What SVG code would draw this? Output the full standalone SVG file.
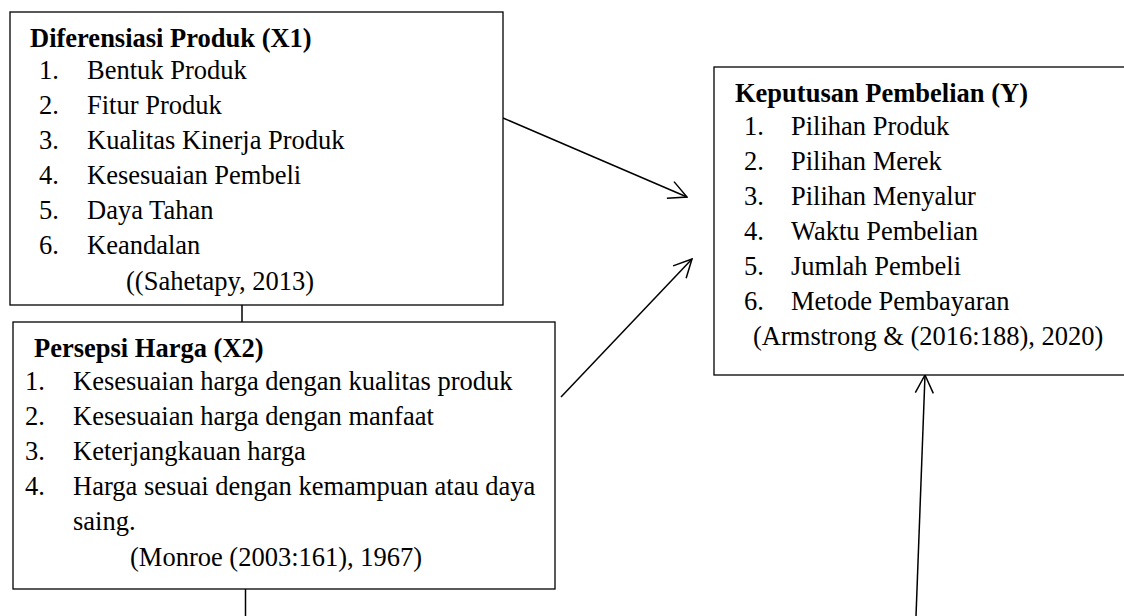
<svg xmlns="http://www.w3.org/2000/svg" width="1124" height="616" viewBox="0 0 1124 616">
<style>
.box{fill:#fff;stroke:#000;stroke-width:1.3}
.t{font-family:"Liberation Serif","Times New Roman",serif;font-size:26.5px;fill:#000}
.b{font-weight:bold}
.ln{stroke:#000;stroke-width:1.5;fill:none}
</style>
<defs>
<marker id="ah" markerUnits="userSpaceOnUse" viewBox="0 0 20 20" refX="19" refY="10" markerWidth="20" markerHeight="20" orient="auto">
<path d="M1,1 L19,10 L1,19" fill="none" stroke="#000" stroke-width="1.5"/>
</marker>
</defs>
<rect width="1124" height="616" fill="#fff"/>
<g id="connectors">
<line class="ln" x1="242" y1="305" x2="242" y2="322"/>
<line class="ln" x1="245.5" y1="589" x2="245.5" y2="616"/>
<line class="ln" x1="503" y1="118" x2="687" y2="197" marker-end="url(#ah)"/>
<line class="ln" x1="561" y1="397" x2="692" y2="259" marker-end="url(#ah)"/>
<line class="ln" x1="916" y1="616" x2="925" y2="375" marker-end="url(#ah)"/>
</g>
<g id="x1">
<rect class="box" x="10" y="12" width="493" height="293"/>
<text class="t b" x="30" y="47">Diferensiasi Produk (X1)</text>
<text class="t" x="39" y="79">1.</text><text class="t" x="87" y="79">Bentuk Produk</text>
<text class="t" x="39" y="114">2.</text><text class="t" x="87" y="114">Fitur Produk</text>
<text class="t" x="39" y="149">3.</text><text class="t" x="87" y="149">Kualitas Kinerja Produk</text>
<text class="t" x="39" y="184">4.</text><text class="t" x="87" y="184">Kesesuaian Pembeli</text>
<text class="t" x="39" y="219">5.</text><text class="t" x="87" y="219">Daya Tahan</text>
<text class="t" x="39" y="254">6.</text><text class="t" x="87" y="254">Keandalan</text>
<text class="t" x="126" y="290">((Sahetapy, 2013)</text>
</g>
<g id="x2">
<rect class="box" x="13" y="322" width="542" height="267"/>
<text class="t b" x="34" y="357">Persepsi Harga (X2)</text>
<text class="t" x="25" y="390">1.</text><text class="t" x="73" y="390">Kesesuaian harga dengan kualitas produk</text>
<text class="t" x="25" y="425">2.</text><text class="t" x="73" y="425">Kesesuaian harga dengan manfaat</text>
<text class="t" x="25" y="460">3.</text><text class="t" x="73" y="460">Keterjangkauan harga</text>
<text class="t" x="25" y="495">4.</text><text class="t" x="73" y="495">Harga sesuai dengan kemampuan atau daya</text>
<text class="t" x="73" y="530">saing.</text>
<text class="t" x="130" y="566">(Monroe (2003:161), 1967)</text>
</g>
<g id="y">
<rect class="box" x="714" y="67" width="420" height="308"/>
<text class="t b" x="735" y="102">Keputusan Pembelian (Y)</text>
<text class="t" x="744" y="135">1.</text><text class="t" x="791" y="135">Pilihan Produk</text>
<text class="t" x="744" y="170">2.</text><text class="t" x="791" y="170">Pilihan Merek</text>
<text class="t" x="744" y="205">3.</text><text class="t" x="791" y="205">Pilihan Menyalur</text>
<text class="t" x="744" y="240">4.</text><text class="t" x="791" y="240">Waktu Pembelian</text>
<text class="t" x="744" y="275">5.</text><text class="t" x="791" y="275">Jumlah Pembeli</text>
<text class="t" x="744" y="310">6.</text><text class="t" x="791" y="310">Metode Pembayaran</text>
<text class="t" x="753" y="345">(Armstrong &amp; (2016:188), 2020)</text>
</g>
</svg>
